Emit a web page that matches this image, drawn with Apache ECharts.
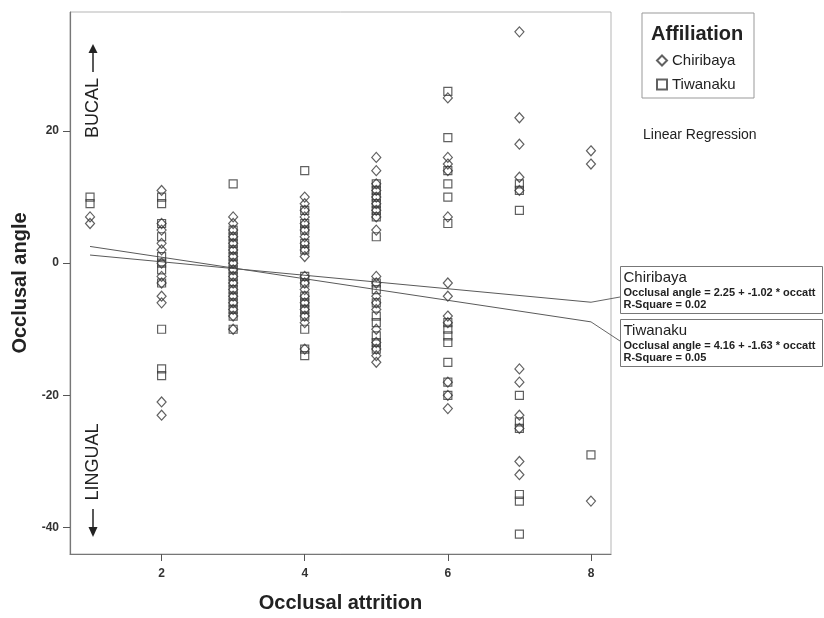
<!DOCTYPE html>
<html>
<head>
<meta charset="utf-8">
<script src="https://cdn.jsdelivr.net/npm/echarts@6/dist/echarts.min.js"></script>
<style>
  html, body { margin: 0; padding: 0; background: #fff; }
  #chart { width: 824px; height: 618px; }
</style>
</head>
<body>
<div id="chart"></div>
<script>
// occlusal attrition scores (x) and the angles observed at each score
const attrition = [1, 2, 3, 4, 5, 6, 7, 8];
const chiribayaAngles = [
  [7, 6],
  [11, 6, 5, 3, 2, 0, -2, -3, -5, -6, -21, -23],
  [7, 6, 5, 4, 3, 2, 1, 0, -1, -2, -3, -4, -5, -6, -7, -8, -10],
  [10, 9, 8, 7, 6, 5, 4, 3, 2, 1, -2, -3, -4, -5, -6, -7, -8, -9, -13],
  [16, 14, 12, 11, 10, 9, 8, 7, 5, -2, -3, -5, -6, -7, -10, -12, -13, -14, -15],
  [25, 16, 15, 14, 7, -3, -5, -8, -9, -18, -20, -22],
  [35, 22, 18, 13, 11, -16, -18, -23, -25, -30, -32],
  [17, 15, -36]
];
const tiwanakuAngles = [
  [10, 9],
  [10, 9, 6, 4, 1, 0, -1, -3, -10, -16, -17],
  [12, 5, 4, 3, 2, 1, 0, -1, -2, -3, -4, -5, -6, -7, -8, -10],
  [14, 8, 6, 5, 3, 2, -2, -3, -5, -6, -7, -8, -10, -13, -14],
  [12, 11, 10, 9, 8, 7, 4, -3, -4, -6, -8, -9, -11, -12, -13],
  [26, 19, 14, 12, 10, 6, -9, -10, -11, -12, -15, -18, -20],
  [12, 11, 8, -20, -24, -25, -35, -36, -41],
  [-29]
];

// fitted lines, endpoints at attrition 1 and 8
const fitRange = [1, 8];
const chiribayaFit = [1.23, -5.91];
const tiwanakuFit = [2.53, -8.88];

const xTicks = [2, 4, 6, 8];
const yTicks = [-40, -20, 0, 20];

const FONT = '"Liberation Sans", Arial, sans-serif';
const INK = '#3a3a3a';

function toPairs(cols) {
  const out = [];
  cols.forEach((vals, i) => vals.forEach((v) => out.push([attrition[i], v])));
  return out;
}

function fitLine(ends) {
  return fitRange.map((x, i) => [x, ends[i]]);
}

const hollow = { color: 'rgba(0,0,0,0)', borderColor: INK, borderWidth: 1.2 };

const chart = echarts.init(document.getElementById('chart'));

const option = {
  animation: false,
  backgroundColor: '#fff',
  textStyle: { fontFamily: FONT },
  grid: {
    left: 70, top: 12, right: 213, bottom: 62,
    show: true, borderColor: '#b5b5b5', borderWidth: 1
  },
  xAxis: {
    type: 'value', min: 0.72, max: 8.28,
    name: 'Occlusal attrition', nameLocation: 'middle', nameGap: 39,
    nameTextStyle: { fontFamily: FONT, fontSize: 20, fontWeight: 'bold', color: '#222' },
    axisLine: { show: true, onZero: false, lineStyle: { color: '#777', width: 1.2 } },
    axisTick: { show: true, length: 7, customValues: xTicks, lineStyle: { color: '#555' } },
    axisLabel: { customValues: xTicks, margin: 14, fontSize: 12, fontWeight: 'bold', color: '#333' },
    splitLine: { show: false }
  },
  yAxis: {
    type: 'value', min: -44, max: 38,
    name: 'Occlusal angle', nameLocation: 'middle', nameGap: 32, nameRotate: 90,
    nameTextStyle: { fontFamily: FONT, fontSize: 20, fontWeight: 'bold', color: '#222' },
    axisLine: { show: true, onZero: false, lineStyle: { color: '#777', width: 1.2 } },
    axisTick: { show: true, length: 7, customValues: yTicks, lineStyle: { color: '#555' } },
    axisLabel: { customValues: yTicks, margin: 11, fontSize: 12, fontWeight: 'bold', color: '#333' },
    splitLine: { show: false }
  },
  legend: {
    data: ['Chiribaya', 'Tiwanaku'],
    orient: 'vertical', left: 651, top: 48,
    itemWidth: 10, itemHeight: 10, itemGap: 9,
    textStyle: { fontFamily: FONT, fontSize: 15, color: '#222' }
  },
  series: [
    {
      name: 'Chiribaya', type: 'scatter', symbol: 'diamond', symbolSize: [9, 10],
      itemStyle: hollow, data: toPairs(chiribayaAngles), z: 3
    },
    {
      name: 'Tiwanaku', type: 'scatter', symbol: 'rect', symbolSize: 8,
      itemStyle: hollow, data: toPairs(tiwanakuAngles), z: 3
    },
    {
      name: 'Chiribaya fit', type: 'line', data: fitLine(chiribayaFit), showSymbol: false,
      lineStyle: { color: '#5a5a5a', width: 1 }, silent: true, z: 2
    },
    {
      name: 'Tiwanaku fit', type: 'line', data: fitLine(tiwanakuFit), showSymbol: false,
      lineStyle: { color: '#5a5a5a', width: 1 }, silent: true, z: 2
    }
  ]
};

chart.setOption(option);

// annotations: direction labels, legend frame, regression notes
const cEnd = chart.convertToPixel({ gridIndex: 0 }, [fitRange[1], chiribayaFit[1]]);
const tEnd = chart.convertToPixel({ gridIndex: 0 }, [fitRange[1], tiwanakuFit[1]]);

function noteBox(top, title, eq, rsq) {
  return {
    type: 'group', left: 620, top: top,
    children: [
      { type: 'rect', shape: { x: 0, y: 0, width: 202, height: 47 },
        style: { fill: '#fff', stroke: '#777', lineWidth: 1 } },
      { type: 'text', x: 3, y: 11, style: { text: title, font: '15px ' + FONT, fill: '#222', verticalAlign: 'middle' } },
      { type: 'text', x: 3, y: 26, style: { text: eq, font: 'bold 11px ' + FONT, fill: '#222', verticalAlign: 'middle' } },
      { type: 'text', x: 3, y: 38, style: { text: rsq, font: 'bold 11px ' + FONT, fill: '#222', verticalAlign: 'middle' } }
    ]
  };
}

chart.setOption({
  graphic: [
    // BUCAL arrow
    { type: 'text', x: 93, y: 108, rotation: Math.PI / 2,
      style: { text: 'BUCAL', font: '18px ' + FONT, fill: '#222', align: 'center', verticalAlign: 'middle' } },
    { type: 'line', shape: { x1: 93, y1: 72, x2: 93, y2: 52 }, style: { stroke: '#222', lineWidth: 1.5 } },
    { type: 'polygon', shape: { points: [[93, 44], [88.5, 53], [97.5, 53]] }, style: { fill: '#222' } },
    // LINGUAL arrow
    { type: 'text', x: 93, y: 462, rotation: Math.PI / 2,
      style: { text: 'LINGUAL', font: '18px ' + FONT, fill: '#222', align: 'center', verticalAlign: 'middle' } },
    { type: 'line', shape: { x1: 93, y1: 509, x2: 93, y2: 528 }, style: { stroke: '#222', lineWidth: 1.5 } },
    { type: 'polygon', shape: { points: [[93, 537], [88.5, 527], [97.5, 527]] }, style: { fill: '#222' } },
    // legend frame
    { type: 'rect', shape: { x: 642, y: 13, width: 112, height: 85 },
      style: { fill: 'none', stroke: '#999', lineWidth: 1 } },
    { type: 'text', x: 651, y: 34,
      style: { text: 'Affiliation', font: 'bold 20px ' + FONT, fill: '#222', verticalAlign: 'middle' } },
    { type: 'text', x: 643, y: 135,
      style: { text: 'Linear Regression', font: '14px ' + FONT, fill: '#222', verticalAlign: 'middle' } },
    // leader lines
    { type: 'polyline', shape: { points: [cEnd, [620, 297]] }, style: { stroke: '#666', lineWidth: 1, fill: null } },
    { type: 'polyline', shape: { points: [tEnd, [620, 341]] }, style: { stroke: '#666', lineWidth: 1, fill: null } },
    noteBox(266, 'Chiribaya', 'Occlusal angle = 2.25 + -1.02 * occatt', 'R-Square = 0.02'),
    noteBox(319, 'Tiwanaku', 'Occlusal angle = 4.16 + -1.63 * occatt', 'R-Square = 0.05')
  ]
});
</script>
</body>
</html>
